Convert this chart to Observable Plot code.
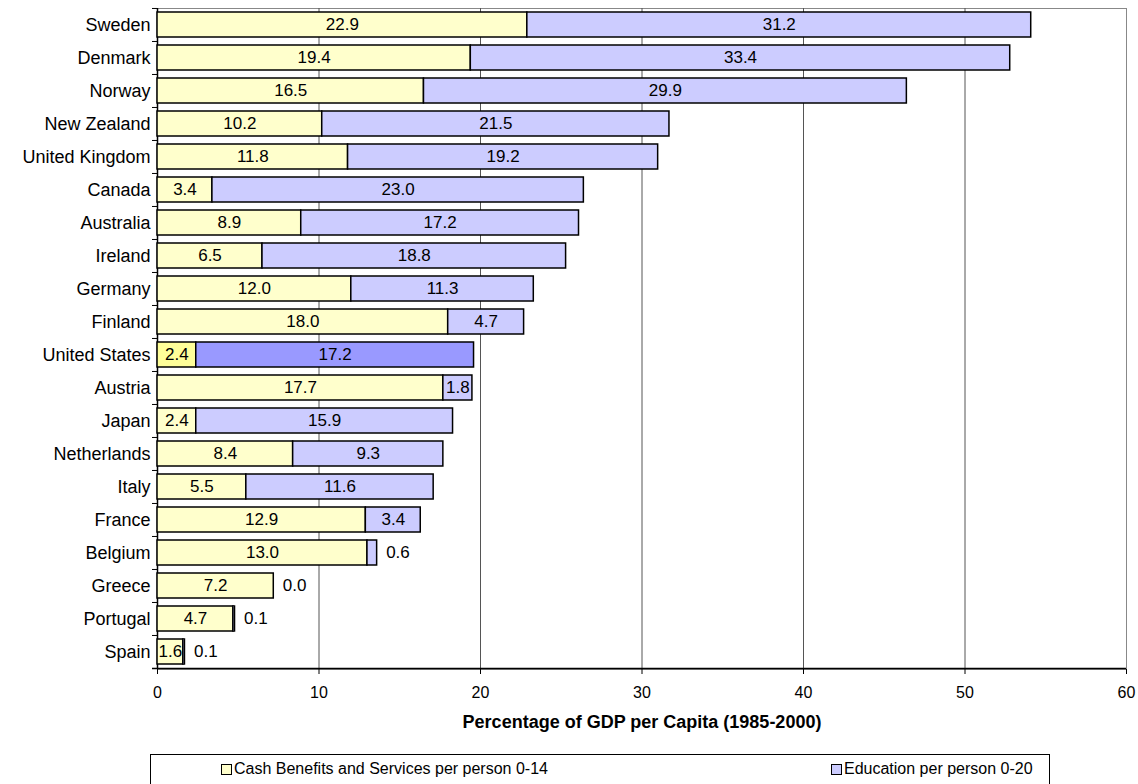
<!DOCTYPE html>
<html>
<head>
<meta charset="utf-8">
<script src="https://cdn.jsdelivr.net/npm/d3@7"></script>
<script src="https://cdn.jsdelivr.net/npm/@observablehq/plot@0.6"></script>
<style>
  body { margin: 0; background: #fff; font-family: "Liberation Sans", Arial, sans-serif; }
  #chart { position: relative; width: 1138px; height: 784px; overflow: hidden; }
  #chart svg { display: block; font-family: "Liberation Sans", Arial, sans-serif; }
  .legend { position: absolute; left: 150px; top: 754px; width: 900px; height: 40px;
            border: 1px solid #000; box-sizing: border-box; font-size: 16px; color: #000; }
  .legend .item { position: absolute; top: 5px; display: flex; align-items: center; white-space: nowrap; }
  .legend .sw { display: inline-block; width: 9px; height: 9px; border: 1px solid #000; margin-right: 2px; }
</style>
</head>
<body>
<div id="chart"></div>
<script>
// Child spending by country, % of GDP per capita (1985-2000)
const countries = ["Sweden", "Denmark", "Norway", "New Zealand", "United Kingdom", "Canada",
  "Australia", "Ireland", "Germany", "Finland", "United States", "Austria", "Japan",
  "Netherlands", "Italy", "France", "Belgium", "Greece", "Portugal", "Spain"];
const cash = [22.9, 19.4, 16.5, 10.2, 11.8, 3.4, 8.9, 6.5, 12.0, 18.0, 2.4, 17.7, 2.4,
  8.4, 5.5, 12.9, 13.0, 7.2, 4.7, 1.6];
const education = [31.2, 33.4, 29.9, 21.5, 19.2, 23.0, 17.2, 18.8, 11.3, 4.7, 17.2, 1.8, 15.9,
  9.3, 11.6, 3.4, 0.6, 0.0, 0.1, 0.1];
const seriesNames = ["Cash Benefits and Services per person 0-14", "Education per person 0-20"];
const highlighted = "United States";
const xTicks = [0, 10, 20, 30, 40, 50, 60];
const axisTitle = "Percentage of GDP per Capita (1985-2000)";

const fills = [["#ffffcc", "#ffff99"], ["#ccccff", "#9999ff"]];

// one row per stacked segment
const segments = countries.flatMap((c, i) => [
  {country: c, series: 0, x1: 0, x2: cash[i], value: cash[i]},
  {country: c, series: 1, x1: cash[i], x2: cash[i] + education[i], value: education[i]}
]);
const fillOf = d => fills[d.series][d.country === highlighted ? 1 : 0];

const width = 1138, height = 748;
const marginTop = 8, marginBottom = 79, marginLeft = 157, marginRight = 12;
const padInner = 0.24, padOuter = 0.12;
const step = (height - marginTop - marginBottom) / (countries.length - padInner + 2 * padOuter);
const tickLen = 5 * 60 / (width - marginLeft - marginRight);

const plot = Plot.plot({
  width, height, marginTop, marginBottom, marginLeft, marginRight,
  style: {fontFamily: "Liberation Sans, Arial, sans-serif", background: "#fff"},
  x: {domain: [0, 60]},
  y: {domain: countries, paddingInner: padInner, paddingOuter: padOuter, align: 0.5},
  marks: [
    Plot.frame({stroke: "#888"}),
    Plot.gridX({ticks: xTicks.slice(1, -1), stroke: "#555", strokeOpacity: 1}),
    Plot.ruleX([0], {stroke: "#000", strokeWidth: 1.5}),
    Plot.ruleY([countries[countries.length - 1]], {dy: step / 2, x1: -tickLen, x2: 60, stroke: "#000", strokeWidth: 1.5}),
    Plot.ruleY(countries, {x1: -tickLen, x2: 0, dy: -step / 2, stroke: "#000"}),
    Plot.barX(segments, {y: "country", x1: "x1", x2: "x2", fill: fillOf, stroke: "#000", strokeWidth: 1.5}),
    Plot.text(segments.filter(d => d.value >= 1), {
      y: "country", x: d => (d.x1 + d.x2) / 2, text: d => d.value.toFixed(1), fontSize: 17, fill: "#000"
    }),
    Plot.text(segments.filter(d => d.value < 1), {
      y: "country", x: "x2", text: d => d.value.toFixed(1), textAnchor: "start", dx: 9, fontSize: 17, fill: "#000"
    }),
    Plot.axisY({tickSize: 0, tickPadding: 7, fontSize: 18, label: null}),
    Plot.axisX({ticks: xTicks, tickSize: 5, tickPadding: 12, fontSize: 16, label: null, stroke: "#000"}),
    Plot.text([axisTitle], {frameAnchor: "bottom", dy: 58, fontWeight: "bold", fontSize: 18, fill: "#000"})
  ]
});

const chart = document.getElementById("chart");
chart.appendChild(plot);

// legend box under the plot
const legend = document.createElement("div");
legend.className = "legend";
const legendLeft = [70, 680];
seriesNames.forEach((name, i) => {
  const item = document.createElement("span");
  item.className = "item";
  item.style.left = legendLeft[i] + "px";
  const sw = document.createElement("span");
  sw.className = "sw";
  sw.style.background = fills[i][0];
  item.appendChild(sw);
  item.appendChild(document.createTextNode(name));
  legend.appendChild(item);
});
chart.appendChild(legend);
</script>
</body>
</html>
